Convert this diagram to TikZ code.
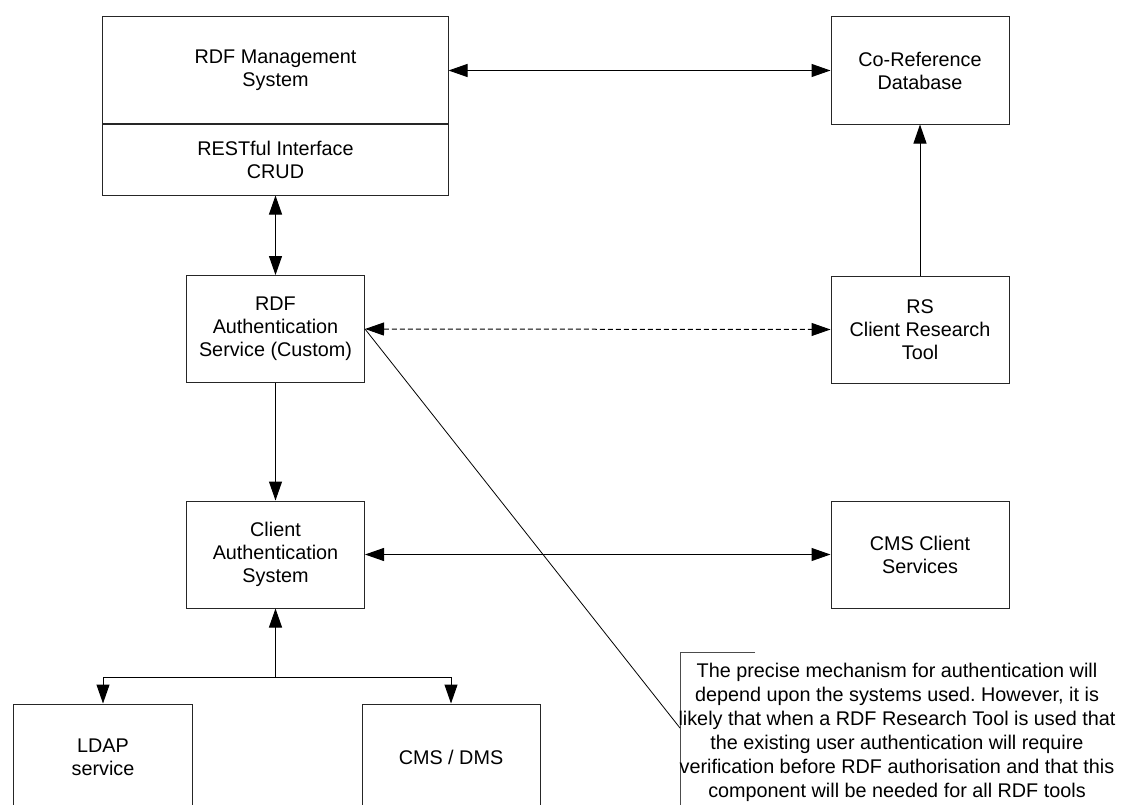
\documentclass[tikz,border=0pt]{standalone}
\usepackage{fontspec}
\setmainfont{Liberation Sans}
\usetikzlibrary{arrows.meta}
\frenchspacing

\begin{document}
\begin{tikzpicture}[x=1bp, y=-1bp,
  every node/.style={font=\fontsize{19.8bp}{23bp}\selectfont, align=center},
  box/.style={draw=black!85, line width=1bp, rectangle, inner sep=0pt,
              minimum width=178bp, minimum height=107bp},
  conn/.style={draw=black, line width=1bp},
  tip/.style={-{Triangle[length=19bp, width=13bp]}},
  bitip/.style={{Triangle[length=19bp, width=13bp]}-{Triangle[length=19bp, width=13bp]}}
]
  \useasboundingbox[fill=white] (0,0) rectangle (1135,805);

  % RDF management system with its RESTful interface compartment
  \node[box, minimum width=345bp, minimum height=107bp] (mgmt) at (275.5,70.5)
    {RDF Management\\System};
  \node[box, minimum width=345bp, minimum height=71bp] (rest) at (275.5,159.5)
    {RESTful Interface\\CRUD};

  % components
  \node[box] (coref)  at (920,70.5)   {Co-Reference\\Database};
  \node[box] (auth)   at (275.5,329)  {RDF\\Authentication\\Service (Custom)};
  \node[box] (rs)     at (920,329.5)  {RS\\Client Research\\Tool};
  \node[box] (client) at (275.5,554.5){Client\\Authentication\\System};
  \node[box] (cms)    at (920,554.5)  {CMS Client\\Services};
  \node[box] (ldap)   at (103,757.5)  {LDAP\\service};
  \node[box] (dms)    at (451,757.5)  {CMS / DMS};

  % connectors
  \draw[conn, bitip] (mgmt.east) -- (coref.west);
  \draw[conn, bitip] (rest.south) -- (auth.north);
  \draw[conn, tip] (rs.north) -- (coref.south);
  \draw[conn, bitip, dash pattern=on 5bp off 3bp] (auth.east) -- (rs.west);
  \draw[conn, tip] (auth.south) -- (client.north);
  \draw[conn, bitip] (client.east) -- (cms.west);

  \coordinate (branch) at (275.5,677);
  \draw[conn, tip] (branch) -- (client.south);
  \draw[conn, tip] (branch) -| (ldap.north);
  \draw[conn, tip] (branch) -| (dms.north);

  % annotation bracket and its leader line
  \coordinate (notetop) at (680,652);
  \coordinate (noteend) at (755,652);
  \coordinate (notebot) at (680,806);
  \coordinate (leader) at (680,728);
  \draw[draw=black!70, line width=1bp] (noteend) -- (notetop) -- (notebot);
  \draw[line width=0.8bp] (auth.east) -- (leader);
  \node[anchor=north, inner sep=0pt,
        font=\fontsize{19.8bp}{24bp}\selectfont] (note) at (897,663)
    {The precise mechanism for authentication will\\
     depend upon the systems used. However, it is\\
     likely that when a RDF Research Tool is used that\\
     the existing user authentication will require\\
     verification before RDF authorisation and that this\\
     component will be needed for all RDF tools};
\end{tikzpicture}
\end{document}
